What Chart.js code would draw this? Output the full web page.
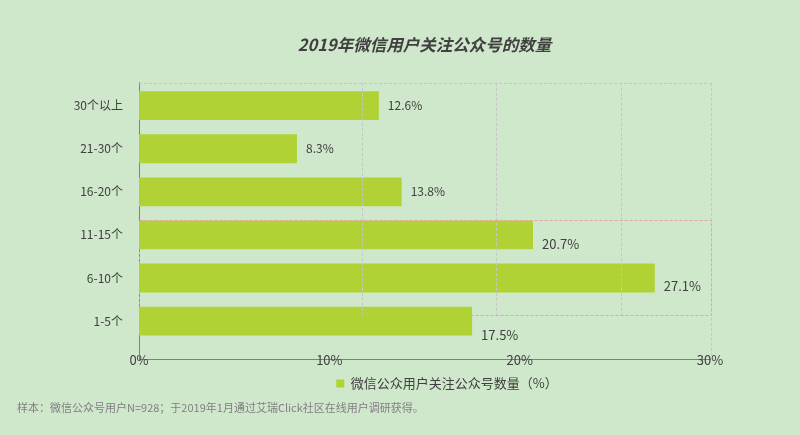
<!DOCTYPE html>
<html>
<head>
<meta charset="utf-8">
<script src="https://cdn.jsdelivr.net/npm/chart.js@4"></script>
<style>
  html, body { margin: 0; padding: 0; background: #cfe7cb; }
  #wrap { width: 800px; height: 435px; position: relative; }
</style>
</head>
<body>
<div id="wrap"><canvas id="chart"></canvas></div>
<script>
// 数据
const categories = ['30个以上', '21-30个', '16-20个', '11-15个', '6-10个', '1-5个'];
const values = [12.6, 8.3, 13.8, 20.7, 27.1, 17.5];
const xTicks = [0, 10, 20, 30];
const seriesName = '微信公众用户关注公众号数量（%）';
const chartTitle = '2019年微信用户关注公众号的数量';
const note = '样本：微信公众号用户N=928；于2019年1月通过艾瑞Click社区在线用户调研获得。';

// 样式
const FONT = '"Noto Sans CJK SC", "Noto Sans", sans-serif';
const TEXT = '#404040';
const BAR = '#b0d235';
const labelShift = [0, 0, 0, 9, 8, 14];   // 数值标签的纵向偏移
const labelSize = [12, 12, 12, 13, 13, 13];

// 数值标签
const valueLabels = {
    id: 'valueLabels',
    afterDatasetsDraw(chart) {
        const ctx = chart.ctx;
        const meta = chart.getDatasetMeta(0);
        ctx.save();
        ctx.fillStyle = TEXT;
        ctx.textAlign = 'left';
        ctx.textBaseline = 'middle';
        meta.data.forEach((bar, i) => {
            ctx.font = labelSize[i] + 'px ' + FONT;
            ctx.fillText(values[i].toFixed(1) + '%', bar.x + 9, bar.y + labelShift[i]);
        });
        ctx.restore();
    }
};

// 原图中的虚线框
const dashedFrame = {
    id: 'dashedFrame',
    afterDatasetsDraw(chart) {
        const {ctx, chartArea} = chart;
        const x = chart.scales.x, y = chart.scales.y;
        ctx.save();
        ctx.lineWidth = 1;
        ctx.setLineDash([3, 2]);
        ctx.strokeStyle = '#c6c6c6';
        ctx.beginPath();
        ctx.moveTo(x.getPixelForValue(0), Math.round(chartArea.top) + 0.5);
        ctx.lineTo(x.getPixelForValue(30) + 1, Math.round(chartArea.top) + 0.5);
        [11.72, 18.76, 25.32].forEach(v => {
            const px = Math.round(x.getPixelForValue(v)) + 0.5;
            ctx.moveTo(px, chartArea.top);
            ctx.lineTo(px, y.getPixelForValue(4.85));
        });
        const px30 = Math.round(x.getPixelForValue(30)) + 1.5;
        ctx.moveTo(px30, chartArea.top);
        ctx.lineTo(px30, chartArea.bottom - 3);
        ctx.stroke();

        ctx.strokeStyle = '#e8a3a3';
        const t = Math.round(y.getPixelForValue(2.66)) + 0.5;
        const b = Math.round(y.getPixelForValue(4.85)) + 0.5;
        const l = Math.round(x.getPixelForValue(0)) + 0.5;
        const r = Math.round(x.getPixelForValue(30)) + 1.5;
        ctx.strokeRect(l, t, r - l, b - t);
        ctx.restore();
    }
};

// 底部注释
const footNote = {
    id: 'footNote',
    afterDraw(chart) {
        const ctx = chart.ctx;
        ctx.save();
        ctx.font = '11px ' + FONT;
        ctx.fillStyle = '#808080';
        ctx.textAlign = 'left';
        ctx.textBaseline = 'middle';
        ctx.fillText(note, 17, 408);
        ctx.restore();
    }
};

new Chart(document.getElementById('chart'), {
    type: 'bar',
    data: {
        datasets: [{
            label: seriesName,
            data: categories.map((c, i) => ({ x: values[i], y: i })),
            backgroundColor: BAR,
            borderWidth: 0,
            categoryPercentage: 1,
            barPercentage: 0.67
        }]
    },
    options: {
        indexAxis: 'y',
        responsive: true,
        maintainAspectRatio: false,
        animation: false,
        // 右侧负边距让图例整体偏右，和原图一致
        layout: { padding: { left: 61, right: -33, top: 0, bottom: 35 } },
        plugins: {
            title: {
                display: true,
                text: chartTitle,
                color: TEXT,
                fullSize: false,
                font: { family: FONT, size: 16.5, weight: 'bold', style: 'italic' },
                padding: { top: 35, bottom: 28 }
            },
            legend: {
                position: 'bottom',
                labels: {
                    boxWidth: 8,
                    boxHeight: 8,
                    padding: 6,
                    color: TEXT,
                    font: { family: FONT, size: 13 }
                }
            },
            tooltip: { enabled: false }
        },
        scales: {
            x: {
                type: 'linear',
                min: 0,
                max: 30,
                afterBuildTicks: s => { s.ticks = xTicks.map(v => ({ value: v })); },
                afterFit: s => { s.height = 12; },
                grid: { display: false, drawTicks: false },
                border: { color: '#7f7f7f', width: 1 },
                ticks: {
                    callback: v => v + '%',
                    mirror: true,
                    padding: -9,
                    maxRotation: 0,
                    color: TEXT,
                    font: { family: FONT, size: 13 }
                }
            },
            y: {
                type: 'linear',
                reverse: true,
                offset: false,
                min: -0.53,
                max: 5.88,
                afterBuildTicks: s => { s.ticks = categories.map((c, i) => ({ value: i })); },
                afterFit: s => { s.width = 78; },
                grid: { display: false, drawTicks: false, offset: false },
                border: { color: '#7f7f7f', width: 1 },
                ticks: {
                    callback: v => categories[v],
                    padding: 16,
                    color: TEXT,
                    font: { family: FONT, size: 12 }
                }
            },
            yRight: {
                type: 'linear',
                position: 'right',
                afterFit: s => { s.width = 123; },
                grid: { display: false, drawTicks: false },
                border: { display: false },
                ticks: { display: false }
            }
        }
    },
    plugins: [dashedFrame, valueLabels, footNote]
});
</script>
</body>
</html>
